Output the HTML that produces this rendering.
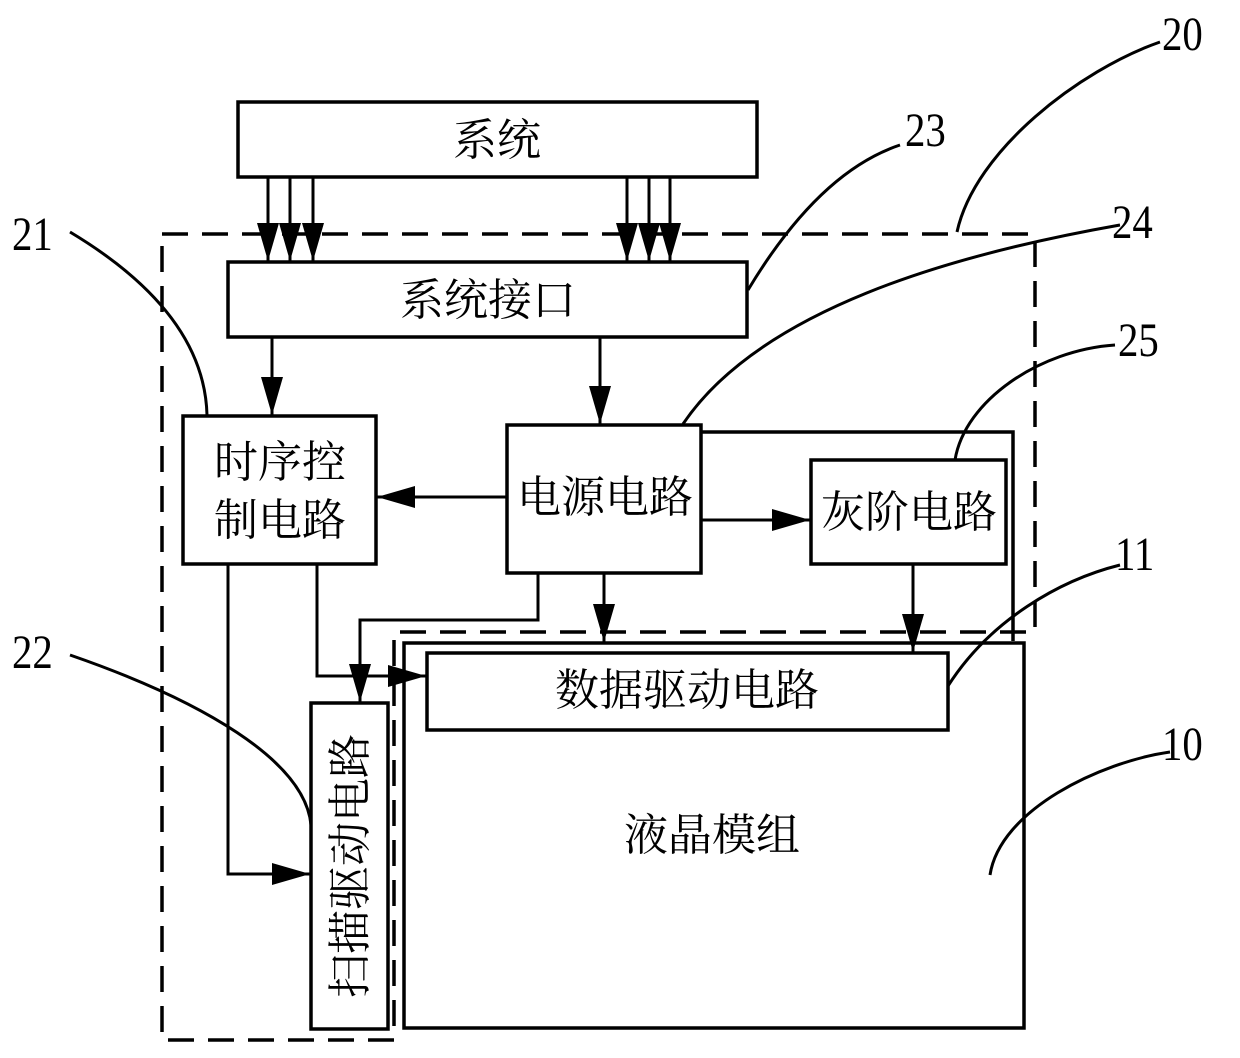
<!DOCTYPE html>
<html><head><meta charset="utf-8"><style>
html,body{margin:0;padding:0;background:#fff;}
svg{display:block;}
.cj{font-family:"Liberation Serif","Noto Serif CJK SC","Noto Sans CJK SC",serif;font-size:44px;fill:#000;}
.nm{font-family:"Liberation Serif",serif;font-size:48px;fill:#000;}
</style></head><body>
<svg width="1240" height="1058" viewBox="0 0 1240 1058" xmlns="http://www.w3.org/2000/svg">
<defs>
<marker id="a" markerWidth="40" markerHeight="30" refX="38" refY="11" orient="auto" markerUnits="userSpaceOnUse">
<path d="M0,0 L38,11 L0,22 Z" fill="#000"/></marker>
</defs>
<g fill="none" stroke="#000" stroke-width="3.5">
<path d="M162,234 H1035 V632 H394 V1040 H162 Z" stroke-dasharray="26,14"/>
<rect x="238" y="102" width="519" height="75"/>
<rect x="228" y="262" width="519" height="75"/>
<rect x="183" y="416" width="193" height="148"/>
<rect x="507" y="425" width="194" height="148"/>
<rect x="811" y="460" width="195" height="104"/>
<rect x="404" y="643" width="620" height="385"/>
<rect x="427" y="653" width="521" height="77"/>
<rect x="311" y="703" width="77" height="326"/>
<path d="M701,432 H1013 V641"/>
</g>
<g fill="none" stroke="#000" stroke-width="3">
<line x1="268" y1="177" x2="268" y2="261" marker-end="url(#a)"/>
<line x1="290" y1="177" x2="290" y2="261" marker-end="url(#a)"/>
<line x1="313" y1="177" x2="313" y2="261" marker-end="url(#a)"/>
<line x1="627" y1="177" x2="627" y2="261" marker-end="url(#a)"/>
<line x1="649" y1="177" x2="649" y2="261" marker-end="url(#a)"/>
<line x1="670" y1="177" x2="670" y2="261" marker-end="url(#a)"/>
<line x1="272" y1="337" x2="272" y2="415" marker-end="url(#a)"/>
<line x1="600" y1="337" x2="600" y2="424" marker-end="url(#a)"/>
<line x1="507" y1="497" x2="377" y2="497" marker-end="url(#a)"/>
<line x1="701" y1="520" x2="810" y2="520" marker-end="url(#a)"/>
<line x1="913" y1="564" x2="913" y2="652" marker-end="url(#a)"/>
<line x1="604" y1="573" x2="604" y2="642" marker-end="url(#a)"/>
<path d="M538,573 V620 H360 V702" marker-end="url(#a)"/>
<path d="M317,564 V676 H426" marker-end="url(#a)"/>
<path d="M228,564 V874 H310" marker-end="url(#a)"/>
<path d="M748,290 C790,220 840,165 900,145"/>
<path d="M957,232 C975,150 1080,70 1160,42"/>
<path d="M70,232 C150,280 205,340 207,415"/>
<path d="M683,424 C760,310 950,255 1120,225"/>
<path d="M955,460 C965,400 1040,350 1115,345"/>
<path d="M948,686 C990,620 1060,580 1120,565"/>
<path d="M70,655 C200,700 305,760 311,825"/>
<path d="M990,875 C1000,810 1100,762 1170,752"/>
</g>
<g class="cj">
<text x="497" y="155" text-anchor="middle">系统</text>
<text x="488" y="315" text-anchor="middle">系统接口</text>
<text x="280" y="477" text-anchor="middle">时序控</text>
<text x="280" y="535" text-anchor="middle">制电路</text>
<text x="605" y="512" text-anchor="middle">电源电路</text>
<text x="909" y="527" text-anchor="middle">灰阶电路</text>
<text x="687" y="705" text-anchor="middle">数据驱动电路</text>
<text x="712" y="850" text-anchor="middle">液晶模组</text>
<text transform="translate(365,866) rotate(-90)" text-anchor="middle">扫描驱动电路</text>
</g>
<g class="nm">
<text transform="translate(1162,50) scale(0.85,1)">20</text>
<text transform="translate(905,146) scale(0.85,1)">23</text>
<text transform="translate(12,250) scale(0.85,1)">21</text>
<text transform="translate(1112,238) scale(0.85,1)">24</text>
<text transform="translate(1118,356) scale(0.85,1)">25</text>
<text transform="translate(1115,570) scale(0.85,1)">11</text>
<text transform="translate(12,668) scale(0.85,1)">22</text>
<text transform="translate(1162,760) scale(0.85,1)">10</text>
</g>
</svg>
</body></html>
